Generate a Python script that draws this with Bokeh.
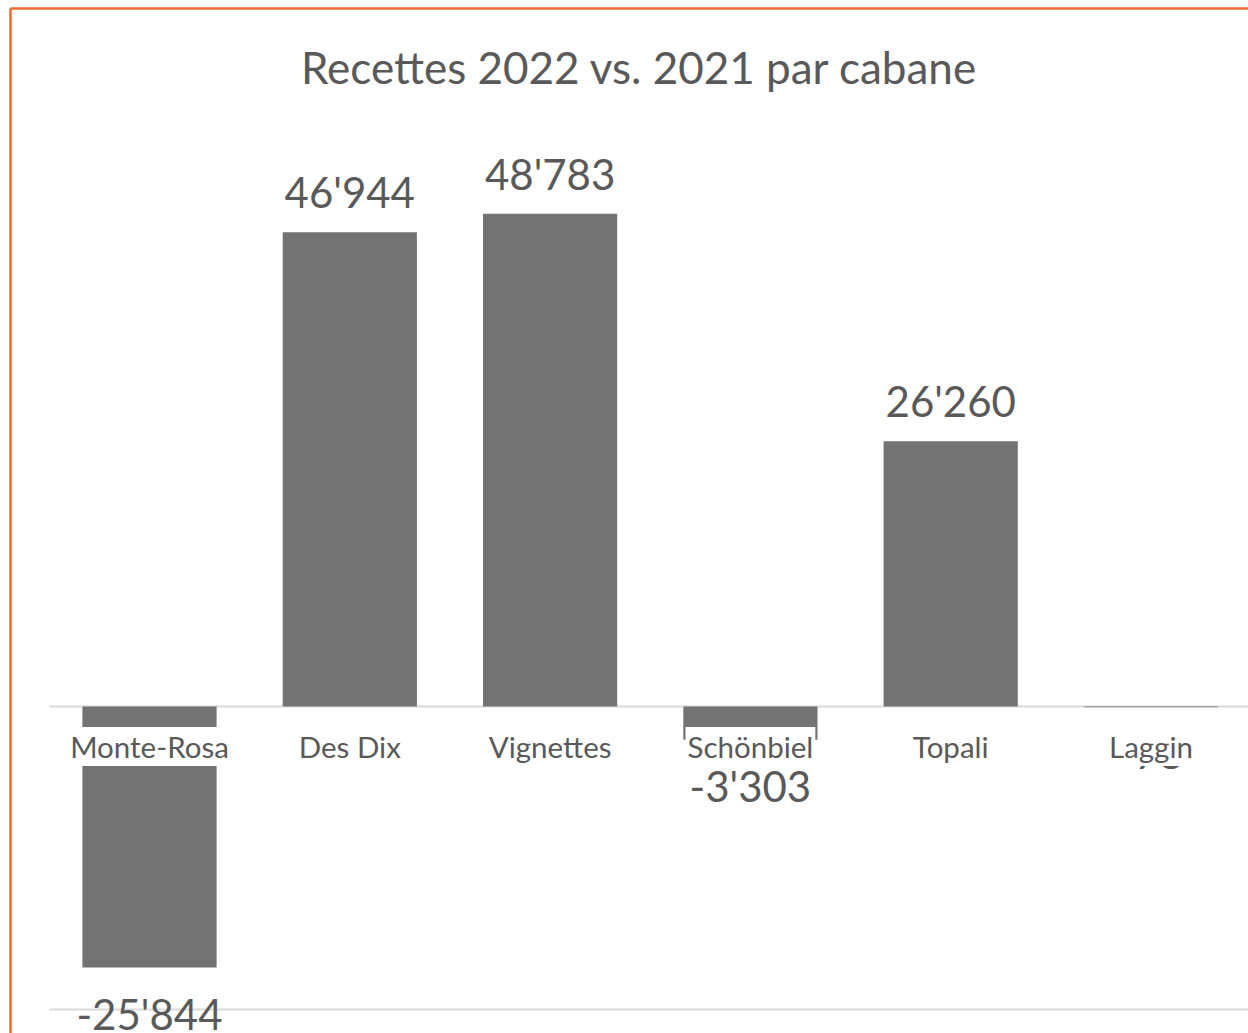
from bokeh.plotting import figure
from bokeh.models import Range1d
from bokeh.core.properties import value
from bokeh.embed import file_html
from bokeh.resources import INLINE

# ---- data ----
categories = ["Monte-Rosa", "Des Dix", "Vignettes", "Schönbiel", "Topali", "Laggin"]
values = [-25844, 46944, 48783, -3303, 26260, -78]
value_labels = ["-25'844", "46'944", "48'783", "-3'303", "26'260", "-78"]
title_text = "Recettes 2022 vs. 2021 par cabane"
grid_values = [0, -30000]

# ---- pixel calibration (canvas == frame) ----
W, H = 1248, 1033
X0_PX, STEP_PX = 149.0, 200.3     # centre of first category, category pitch
ZERO_PX, K = 706.0, 0.0101        # y pixel of 0, pixels per unit

def X(px):
    return (px - X0_PX) / STEP_PX

def Y(py):
    return (ZERO_PX - py) / K

TEXT = "#595959"
BAR = "#737373"
GRID = "#D9D9D9"
ORANGE = "#EE6A2C"
FONT = value("Lato")

p = figure(width=W, height=H, output_backend="svg", toolbar_location=None,
           x_axis_type=None, y_axis_type=None,
           x_range=Range1d(X(0), X(W)), y_range=Range1d(Y(H), Y(0)),
           min_border=0, min_border_left=0, min_border_right=0,
           min_border_top=0, min_border_bottom=0)
p.outline_line_color = None
p.xgrid.visible = False
p.ygrid.visible = False
p.background_fill_color = "white"
p.border_fill_color = "white"

xs = list(range(len(categories)))

# gridlines
p.segment(x0=[-0.5] * len(grid_values), x1=[X(W + 20)] * len(grid_values),
          y0=grid_values, y1=grid_values, line_color=GRID, line_width=2)

# bars
p.vbar(x=xs, top=values, bottom=0, width=0.67, fill_color=BAR, line_color=None)

# value labels
pos_off, neg_off = 40 / K, 46 / K
label_y = [v + pos_off if v > 0 else v - neg_off for v in values]
p.text(x=xs, y=label_y, text=value_labels, text_font=FONT, text_font_size="42px",
       text_color=TEXT, text_align="center", text_baseline="alphabetic")

# category labels with white background (cover bars like the original)
p.text(x=xs, y=[Y(746)] * len(xs), text=categories, text_font=FONT,
       text_font_size="29.5px", text_color=TEXT, text_align="center",
       text_baseline="middle", background_fill_color="white", padding=2)

# title
p.text(x=[X(639)], y=[Y(66)], text=[title_text], text_font=FONT,
       text_font_size="44px", text_color=TEXT, text_align="center",
       text_baseline="alphabetic")

# chart-area border (left and top edges visible)
p.segment(x0=[X(10), X(10)], y0=[Y(8), Y(8)], x1=[X(10), X(W + 20)],
          y1=[Y(H + 20), Y(8)], line_color=ORANGE, line_width=2.5)

open("out.html", "w").write(file_html(p, INLINE))
